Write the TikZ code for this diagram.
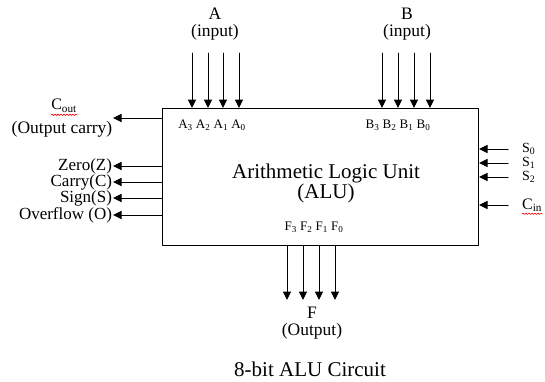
\documentclass[tikz,border=0pt]{standalone}
\usepackage{fontspec}
\setmainfont{Liberation Serif}
\newfontfamily\tnr{Liberation Serif}
\usetikzlibrary{arrows.meta,decorations.pathmorphing}
\begin{document}
\begin{tikzpicture}[x=1pt,y=-1pt,line cap=round,line join=round,
  arr/.style={line width=1pt,-{Triangle[length=8.5pt,width=8pt]}},
  lbl/.style={inner sep=0pt,font=\tnr\fontsize{17.5}{17}\selectfont,align=center},
  pin/.style={inner sep=0pt,font=\tnr\fontsize{13}{15}\selectfont},
  squig/.style={red,line width=0.6pt,decorate,decoration={snake,amplitude=0.7pt,segment length=3pt}}]
  \useasboundingbox (0,0) rectangle (545,381);
  \node[draw,line width=1pt,anchor=north west,minimum width=316pt,minimum height=137pt,inner sep=0pt] (alu) at (162,108) {};
  \node[inner sep=0pt,font=\tnr\fontsize{21}{20}\selectfont,align=center] (title) at (326,183) {Arithmetic Logic Unit\\(ALU)};
  \node[lbl] (ain) at (215,24) {A\\(input)};
  \node[lbl] (bin) at (407,24) {B\\(input)};
  \foreach \x/\n in {192/3,208/2,223/1,239/0} {
    \coordinate (a\n) at (\x,53);
    \draw[arr] (a\n) -- (a\n |- alu.north);
  }
  \foreach \x/\n in {382/3,398/2,414/1,430/0} {
    \coordinate (b\n) at (\x,53);
    \draw[arr] (b\n) -- (b\n |- alu.north);
  }
  \node[pin] (apins) at (212,125) {A\textsubscript{3} A\textsubscript{2} A\textsubscript{1} A\textsubscript{0}};
  \node[pin] (bpins) at (398,125) {B\textsubscript{3} B\textsubscript{2} B\textsubscript{1} B\textsubscript{0}};
  \node[pin] (fpins) at (314,227) {F\textsubscript{3} F\textsubscript{2} F\textsubscript{1} F\textsubscript{0}};
  \foreach \x/\n in {287/3,303/2,319/1,335/0} {
    \coordinate (f\n) at (\x,300);
    \draw[arr] (f\n |- alu.south) -- (f\n);
  }
  \node[lbl] (fout) at (312,323) {F\\(Output)};
  \node[inner sep=0pt,font=\tnr\fontsize{16}{16}\selectfont] (cout) at (64,106) {C\textsubscript{out}};
  \node[lbl] (coutlbl) at (62,129) {(Output carry)};
  \coordinate (couttip) at (113,118);
  \draw[arr] (couttip -| alu.west) -- (couttip);
  \draw[squig] ([yshift=-2pt]cout.south west) -- ([yshift=-2pt]cout.south east);
  \foreach \y/\nm/\t in {166/zero/Zero(Z),182/carry/Carry(C),198/sign/Sign(S),215/ovf/Overflow (O)} {
    \node[lbl,anchor=east,outer sep=1pt,font=\tnr\fontsize{17}{17}\selectfont] (\nm) at (113,\y) {\t};
    \draw[arr] (\nm -| alu.west) -- (\nm.east);
  }
  \foreach \y/\n in {149/0,163/1,177/2} {
    \node[pin,anchor=west,font=\tnr\fontsize{14}{15}\selectfont] (s\n) at (522,\y) {S\textsubscript{\n}};
    \draw[arr] ([xshift=-14pt]s\n.west) -- (s\n -| alu.east);
  }
  \node[inner sep=0pt,font=\tnr\fontsize{16}{16}\selectfont,anchor=west] (cin) at (522,205) {C\textsubscript{in}};
  \draw[arr] ([xshift=-14pt]cin.west) -- (cin -| alu.east);
  \draw[squig] ([yshift=-2pt]cin.south west) -- ([yshift=-2pt]cin.south east);
  \node[inner sep=0pt,font=\tnr\fontsize{21}{24}\selectfont] (caption) at (310,369) {8-bit ALU Circuit};
\end{tikzpicture}
\end{document}
